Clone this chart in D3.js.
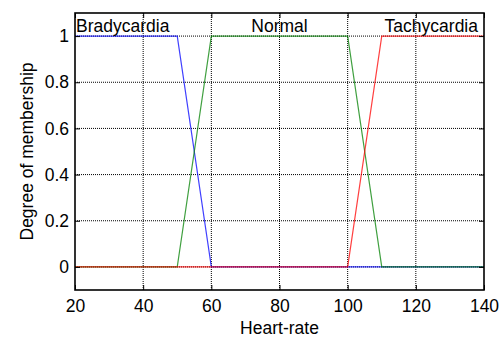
<!DOCTYPE html>
<html><head><meta charset="utf-8">
<script src="https://cdn.jsdelivr.net/npm/d3@7"></script>
<style>body{margin:0;background:#fff}svg{display:block}text{font-family:Arial,"Liberation Sans",sans-serif;fill:#000}</style>
</head><body>
<script>
const xTicks = [20, 40, 60, 80, 100, 120, 140];
const yTicks = [0, 0.2, 0.4, 0.6, 0.8, 1];
const yTickLabels = ["0", "0.2", "0.4", "0.6", "0.8", "1"];
const mfNames = ["Bradycardia", "Normal", "Tachycardia"];
const mfColors = ["#0000ff", "#008000", "#ff0000"];
const bradyX = [20, 50, 60, 140];
const bradyY = [1, 1, 0, 0];
const normalX = [20, 50, 60, 100, 110, 140];
const normalY = [0, 0, 1, 1, 0, 0];
const tachyX = [20, 100, 110, 140];
const tachyY = [0, 0, 1, 1];
const labelX = [20, 80, 140];

const W = 504, H = 337;
const m = {l: 75, r: 20, t: 13, b: 47};
const FS = "17.5px";
const svg = d3.select("body").append("svg").attr("width", W).attr("height", H);
const x = d3.scaleLinear().domain([20, 140]).range([m.l, W - m.r]);
const y = d3.scaleLinear().domain([-0.1, 1.1]).range([H - m.b, m.t]);
const x0 = x.range()[0], x1 = x.range()[1], y0 = y.range()[0], y1 = y.range()[1];

// grid
const g = svg.append("g");
g.selectAll("line.gx").data(xTicks.slice(1, -1)).enter().append("line")
  .attr("x1", d => x(d)).attr("x2", d => x(d)).attr("y1", y0).attr("y2", y1)
  .attr("stroke", "#000").attr("stroke-width", 1).attr("stroke-dasharray", "1,1");
g.selectAll("line.gy").data(yTicks).enter().append("line")
  .attr("x1", x0).attr("x2", x1).attr("y1", d => y(d)).attr("y2", d => y(d))
  .attr("stroke", "#000").attr("stroke-width", 1).attr("stroke-dasharray", "1,1");

// curves
const series = [[bradyX, bradyY], [normalX, normalY], [tachyX, tachyY]];
const line = d3.line().x(d => x(d[0])).y(d => y(d[1]));
series.forEach((s, i) => {
  const pts = s[0].map((v, j) => [v, s[1][j]]);
  svg.append("path").attr("d", line(pts)).attr("fill", "none")
    .attr("stroke", mfColors[i]).attr("stroke-width", 1.2).attr("stroke-opacity", 0.75);
});

// axes
const ax = svg.append("g").attr("transform", `translate(0,${y0})`)
  .call(d3.axisBottom(x).tickValues(xTicks).tickSizeInner(-5).tickSizeOuter(0).tickPadding(10));
const ay = svg.append("g").attr("transform", `translate(${x0},0)`)
  .call(d3.axisLeft(y).tickValues(yTicks).tickFormat((d, i) => yTickLabels[i]).tickSizeInner(-5).tickSizeOuter(0).tickPadding(6));
const ar = svg.append("g").attr("transform", `translate(${x1},0)`)
  .call(d3.axisRight(y).tickValues(yTicks).tickFormat("").tickSizeInner(-5).tickSizeOuter(0));
const at = svg.append("g").attr("transform", `translate(0,${y1})`)
  .call(d3.axisTop(x).tickValues(xTicks).tickFormat("").tickSizeInner(-5).tickSizeOuter(0));
[ax, ay, ar, at].forEach(a => {
  a.select(".domain").remove();
  a.selectAll("text").style("font-size", FS).style("font-family", "Arial, 'Liberation Sans', sans-serif").attr("fill", "#000");
  a.selectAll(".tick line").attr("stroke", "#000");
});
ax.selectAll("text").attr("dy", "0.71em");
svg.append("rect").attr("x", x0).attr("y", y1).attr("width", x1 - x0).attr("height", y0 - y1)
  .attr("fill", "none").attr("stroke", "#000").attr("stroke-width", 1.6);

// mf labels
const anchors = ["start", "middle", "end"];
const offs = [1, 0, -6];
mfNames.forEach((n, i) => {
  svg.append("text").attr("x", x(labelX[i]) + offs[i]).attr("y", 31.5)
    .attr("text-anchor", anchors[i]).style("font-size", FS).text(n);
});

// axis titles
svg.append("text").attr("x", (x0 + x1) / 2).attr("y", 334).attr("text-anchor", "middle")
  .style("font-size", FS).text("Heart-rate");
svg.append("text").attr("transform", `translate(33,${(y0 + y1) / 2}) rotate(-90)`)
  .attr("text-anchor", "middle").style("font-size", FS).text("Degree of membership");
</script>
</body></html>
